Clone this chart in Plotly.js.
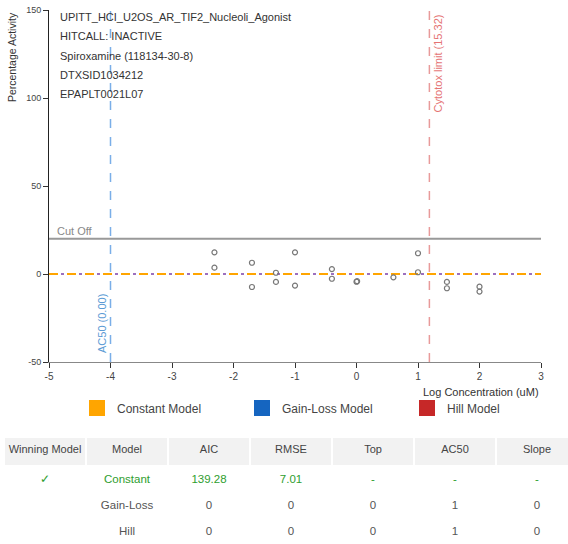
<!DOCTYPE html>
<html>
<head>
<meta charset="utf-8">
<script src="https://cdn.plot.ly/plotly-3.0.1.min.js"></script>
<style>
html,body{margin:0;padding:0;background:#fff;overflow:hidden;width:568px;height:544px;}
#chart{width:568px;height:430px;}
#table{width:578px;height:114px;}
</style>
</head>
<body>
<div id="chart"></div>
<div id="table"></div>
<script>
// ---- data ----
var logConc = [-2.31,-2.31,-1.70,-1.70,-1.31,-1.31,-1.00,-1.00,-0.40,-0.40,0.00,0.01,0.60,1.00,1.00,1.47,1.47,2.00,2.00];
var response = [12.3,3.6,6.4,-7.4,0.7,-4.5,12.3,-6.6,2.8,-2.7,-4.4,-4.1,-1.9,11.8,1.0,-4.5,-8.1,-7.2,-10.0];
var infoLines = ["UPITT_HCI_U2OS_AR_TIF2_Nucleoli_Agonist","HITCALL: INACTIVE","Spiroxamine (118134-30-8)","DTXSID1034212","EPAPLT0021L07"];
var cutOff = 20;
var constantValue = 0;
var ac50Log = -4;
var ac50Label = "AC50 (0.00)";
var cytotoxLog = Math.log10(15.32);
var cytotoxLabel = "Cytotox limit (15.32)";
var xRange = [-5, 3];
var yRange = [-50, 150];
var xTickVals = [-5,-4,-3,-2,-1,0,1,2,3];
var xTickText = ["-5","-4","-3","-2","-1","0","1","2","3"];
var yTickVals = [-50,0,50,100,150];
var yTickText = ["-50","0","50","100","150"];
var modelNames = ["Constant Model","Gain-Loss Model","Hill Model"];
var modelColors = ["#FFA500","#1565C0","#C62828"];

var tableHeader = ["Winning\u00a0Model","Model","AIC","RMSE","Top","AC50","Slope"];
var colWinning = ["\u2713","",""];
var colModel = ["Constant","Gain-Loss","Hill"];
var colAIC = ["139.28","0","0"];
var colRMSE = ["7.01","0","0"];
var colTop = ["-","0","0"];
var colAC50 = ["-","1","1"];
var colSlope = ["-","0","0"];

var FONT = "Liberation Sans, Arial, sans-serif";

var traces = [];
traces.push({x: xRange, y: [0,0], mode:"lines", line:{color:"#9b6fbf", width:2, dash:"dot"}, showlegend:false, hoverinfo:"skip"});
traces.push({x: xRange, y: [constantValue,constantValue], mode:"lines", line:{color:"#FFA500", width:2, dash:"dash"}, showlegend:false, hoverinfo:"skip"});
traces.push({x: logConc, y: response, mode:"markers", marker:{symbol:"circle-open", size:5, color:"#777", line:{width:1.2, color:"#777"}}, showlegend:false});
for (var i=0;i<modelNames.length;i++){
  traces.push({x:[null], y:[null], mode:"markers", name:modelNames[i], marker:{symbol:"square", size:16, color:modelColors[i]}, showlegend:true});
}

var annotations = [];
for (var j=0;j<infoLines.length;j++){
  annotations.push({xref:"paper", yref:"paper", x:0.018, y:1 - (7 + j*19.3)/352, xanchor:"left", yanchor:"middle", text:infoLines[j], showarrow:false, font:{family:FONT, size:11, color:"#333"}});
}
annotations.push({xref:"paper", yref:"y", x:0.012, y:cutOff, xanchor:"left", yanchor:"bottom", text:"Cut Off", showarrow:false, font:{family:FONT, size:11, color:"#888"}});
annotations.push({xref:"x", yref:"paper", x:ac50Log, y:(362-355)/352, xanchor:"right", yanchor:"bottom", textangle:-90, text:ac50Label, showarrow:false, font:{family:FONT, size:11, color:"#5b9bd5"}, xshift:-1});
annotations.push({xref:"x", yref:"paper", x:cytotoxLog, y:1-(12-10)/352, xanchor:"left", yanchor:"top", textangle:-90, text:cytotoxLabel, showarrow:false, font:{family:FONT, size:11, color:"#e57373"}, xshift:1});
annotations.push({xref:"paper", yref:"paper", x:-0.075, y:1, xanchor:"center", yanchor:"top", textangle:-90, text:"Percentage Activity", showarrow:false, font:{family:FONT, size:10.5, color:"#333"}});
annotations.push({xref:"paper", yref:"paper", x:1, y:-(392-362)/352, xanchor:"right", yanchor:"middle", text:"Log Concentration (uM)", showarrow:false, font:{family:FONT, size:11, color:"#333"}});

var shapes = [
  {type:"line", xref:"paper", yref:"y", x0:0, x1:1, y0:cutOff, y1:cutOff, line:{color:"#999", width:2}, layer:"below"},
  {type:"line", xref:"x", yref:"paper", x0:ac50Log, x1:ac50Log, y0:0, y1:1, line:{color:"#7aaee8", width:1.5, dash:"dash"}},
  {type:"line", xref:"x", yref:"paper", x0:cytotoxLog, x1:cytotoxLog, y0:0, y1:1, line:{color:"#e89a9a", width:1.5, dash:"dash"}}
];

var layout = {
  width:568, height:430,
  margin:{l:49, r:27, t:10, b:68, autoexpand:false},
  paper_bgcolor:"#fff", plot_bgcolor:"#fff",
  font:{family:FONT, size:10, color:"#444"},
  xaxis:{range:xRange, tickmode:"array", tickvals:xTickVals, ticktext:xTickText, showgrid:false, zeroline:false, showline:true, linecolor:"#888", linewidth:1, ticks:"outside", ticklen:5, tickcolor:"#333", tickfont:{size:10, color:"#444"}},
  yaxis:{range:yRange, tickmode:"array", tickvals:yTickVals, ticktext:yTickText, showgrid:false, zeroline:false, showline:true, linecolor:"#222", linewidth:1, ticks:"outside", ticklen:5, tickcolor:"#333", tickfont:{size:9, color:"#444"}},
  showlegend:true,
  legend:{orientation:"h", x:(77-49)/492, xanchor:"left", y:-(408-362)/352, yanchor:"middle", entrywidth:120, entrywidthmode:"pixels", font:{family:FONT, size:12, color:"#444"}, bgcolor:"rgba(0,0,0,0)", itemclick:false},
  shapes:shapes,
  annotations:annotations
};

Plotly.newPlot("chart", traces, layout, {displayModeBar:false, staticPlot:true});

var green = "#2e9e2e";
var grayTxt = "#555";
var colorCol = [green, grayTxt, grayTxt];
var tableTrace = {
  type:"table",
  columnwidth:[1,1,1,1,1,1,1],
  header:{values:tableHeader, align:"center", height:29, fill:{color:"#f2f2f2"}, line:{color:"#fff", width:2}, font:{family:FONT, size:11, color:"#444"}},
  cells:{values:[colWinning,colModel,colAIC,colRMSE,colTop,colAC50,colSlope], align:"center", height:26, fill:{color:"#fff"}, line:{color:"#fff", width:1}, font:{family:FONT, size:11.5, color:[colorCol,colorCol,colorCol,colorCol,colorCol,colorCol,colorCol]}}
};
Plotly.newPlot("table", [tableTrace], {width:578, height:114, margin:{l:4, r:0, t:7, b:0}, paper_bgcolor:"#fff"}, {displayModeBar:false, staticPlot:true});
</script>
</body>
</html>
